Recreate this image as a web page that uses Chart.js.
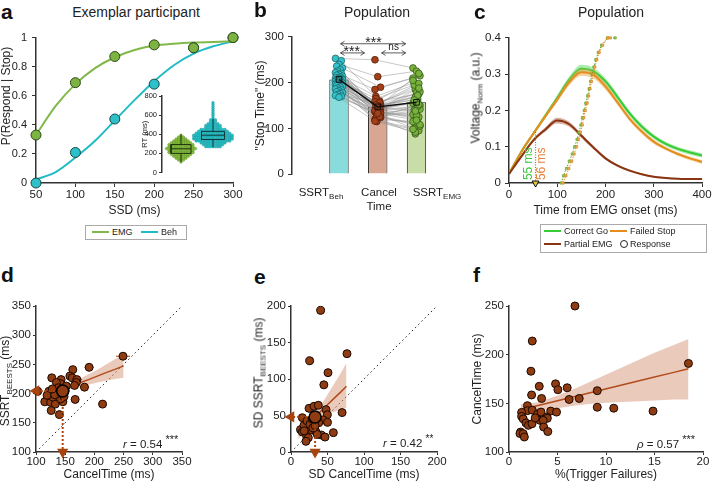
<!DOCTYPE html>
<html>
<head>
<meta charset="utf-8">
<title>Stop times</title>
<script src="https://cdn.jsdelivr.net/npm/chart.js@4.4.1/dist/chart.umd.min.js"></script>
<style>
  body { margin: 0; background: #fff; }
  #fig { position: relative; width: 715px; height: 482px; overflow: hidden;
         font-family: "Liberation Sans", Arial, sans-serif; color: #222; }
  #fig canvas { position: absolute; }
  .t { position: absolute; white-space: nowrap; line-height: 1; }
  .let { font-weight: bold; font-size: 21px; color: #111; }
  .ttl { font-size: 14px; }
  .ax { font-size: 12px; }
  .tk { font-size: 11.5px; }
  .sub { font-size: 8px; vertical-align: -3px; }
  .st { font-size: 11.5px; }
  .leg { position: absolute; border: 1px solid #aaa; background: #fff; }
  .ln { position: absolute; height: 2px; }
  .lt { position: absolute; font-size: 9px; line-height: 1; transform: translateY(-50%); }
</style>
</head>
<body>
<div id="fig"></div>
<script>
Chart.defaults.font.family = '"Liberation Sans", Arial, sans-serif';
Chart.defaults.font.size = 11.5;
Chart.defaults.color = '#222';
Chart.defaults.animation = false;
Chart.defaults.responsive = false;
Chart.defaults.events = [];
Chart.defaults.plugins.legend.display = false;
Chart.defaults.plugins.tooltip.enabled = false;

// ---------- panel a : exemplar participant
var ssd = [50, 100, 150, 200, 250, 300];
var pRespEmg = [0.33, 0.69, 0.87, 0.95, 0.93, 1.0];
var pRespBeh = [0.0, 0.21, 0.44, 0.68, 0.93, 1.0];
var fitSsd = [50, 75, 100, 125, 150, 175, 200, 225, 250, 275, 300];
var fitEmg = [0.33, 0.53, 0.68, 0.79, 0.865, 0.915, 0.945, 0.958, 0.966, 0.97, 0.975];
var fitBeh = [0.025, 0.075, 0.175, 0.29, 0.43, 0.57, 0.70, 0.81, 0.89, 0.94, 0.975];

// inset: RT swarm (half widths in px) and box stats [min, q1, median, q3, max]
var emgRt = [110, 130, 150, 170, 190, 210, 230, 250, 270, 290, 310, 330, 350, 370, 390];
var emgHalf = [1, 2, 4, 7, 10, 12, 13, 14, 13, 11, 9, 7, 5, 3, 1];
var behRt = [270, 290, 310, 330, 350, 370, 390, 410, 430, 450, 470, 490, 510, 530, 550,
             570, 590, 610, 630, 650, 670, 690, 710, 730];
var behHalf = [6, 10, 13, 16, 18, 20, 19, 17, 14, 11, 8, 6, 4, 3, 2, 0, 0, 0, 0, 0, 0, 0, 0, 0];
var emgBox = [110, 200, 248, 292, 400];
var behBox = [265, 345, 390, 430, 560];

// ---------- panel b : population stop times
var stopLabels = ['SSRT<span class="sub">Beh</span>', 'Cancel<br>Time', 'SSRT<span class="sub">EMG</span>'];
var stopMeans = [207, 147, 157];
var ssrtBeh = [253, 248, 240, 236, 232, 228, 225, 222, 220, 218, 216, 214, 212, 211, 210, 209, 208, 207,
               206, 205, 204, 203, 202, 201, 200, 199, 198, 197, 196, 195, 194, 193, 192, 190, 188, 186,
               184, 182, 180, 178, 176, 174, 172, 170, 168];
var cancelTime = [250, 160, 213, 145, 190, 138, 152, 185, 130, 148, 170, 125, 142, 155, 136, 150, 128, 165,
                  140, 147, 122, 158, 135, 143, 118, 153, 132, 146, 120, 156, 127, 141, 134, 149, 115, 139,
                  144, 131, 151, 124, 137, 129, 116, 126, 133];
var ssrtEmg = [232, 175, 225, 140, 215, 120, 190, 210, 95, 170, 200, 105, 160, 185, 130, 220, 110, 195,
               150, 165, 88, 205, 125, 178, 100, 180, 145, 168, 115, 198, 135, 158, 142, 172, 92, 155,
               188, 128, 162, 108, 148, 138, 98, 152, 118];

// ---------- panel c : EMG waveforms
var cTime = [0, 25, 50, 75, 100, 125, 150, 175, 200, 225, 250, 275, 300, 325, 350, 375, 400];
var goV   = [0.025, 0.085, 0.135, 0.185, 0.235, 0.285, 0.315, 0.308, 0.28, 0.237, 0.192, 0.156, 0.128, 0.108, 0.094, 0.084, 0.076];
var goSem = [0.003, 0.004, 0.005, 0.006, 0.007, 0.009, 0.011, 0.01, 0.009, 0.008, 0.007, 0.007, 0.006, 0.006, 0.006, 0.006, 0.006];
var failV = [0.025, 0.085, 0.135, 0.183, 0.23, 0.278, 0.305, 0.298, 0.266, 0.222, 0.177, 0.142, 0.114, 0.095, 0.08, 0.068, 0.058];
var failSem = [0.003, 0.004, 0.005, 0.006, 0.007, 0.009, 0.01, 0.01, 0.009, 0.008, 0.007, 0.006, 0.006, 0.005, 0.005, 0.005, 0.005];
var partV = [0.025, 0.072, 0.117, 0.147, 0.172, 0.162, 0.13, 0.098, 0.068, 0.048, 0.034, 0.024, 0.017, 0.014, 0.012, 0.011, 0.011];
var partSem = [0.003, 0.004, 0.005, 0.006, 0.008, 0.007, 0.006, 0.005, 0.004, 0.003, 0.003, 0.002, 0.002, 0.002, 0.002, 0.002, 0.002];
var respY = [0, 0.02, 0.04, 0.06, 0.08, 0.10, 0.12, 0.14, 0.16, 0.18, 0.20, 0.22, 0.24, 0.26, 0.28,
             0.30, 0.32, 0.34, 0.36, 0.38, 0.40, 0.40];
var respGoX = [108, 113, 119, 125, 131, 136, 141, 145, 149, 152, 156, 159, 163, 166, 169, 172, 176, 180, 185, 192, 204, 220];
var respFailX = [112, 118, 124, 130, 135, 140, 144, 148, 152, 155, 158, 162, 165, 168, 171, 175, 178, 182, 187, 194, 205, 210];
var onsetMs = [55, 56];

// ---------- panel d
var dCancel = [249, 191, 163, 127, 143, 142, 135, 158, 162, 170, 169, 166, 152, 183, 131, 122, 103, 167, 214,
               115, 125, 133, 146, 142, 126, 140, 129, 119, 136, 145, 138, 148, 132, 128, 150];
var dSsrt = [264, 245, 241, 227, 224, 217, 219, 230, 227, 224, 219, 214, 213, 211, 206, 204, 204, 190, 182,
             186, 185, 182, 186, 191, 171, 164, 194, 197, 200, 201, 210, 195, 198, 208, 205];
var dErr = [12, 8, 5, 4, 4, 4, 4, 5, 4, 9, 4, 4, 4, 8, 4, 4, 8, 7, 4,
            5, 4, 4, 4, 4, 4, 4, 4, 4, 4, 4, 4, 4, 4, 4, 4];
var dMean = [145.7, 204.5];
var dFitX = [112, 130, 145, 160, 175, 190, 205, 220, 235, 250];
var dFitY = [194, 201, 207, 212.5, 218.5, 224, 230, 236, 241.5, 247.5];
var dFitHi = [203, 206, 210, 217, 225, 233, 241, 250, 259, 268];
var dFitLo = [186, 196, 203, 208, 212, 215, 219, 222, 225, 227];

// ---------- panel e
var eCancelSd = [40.6, 76.7, 25.6, 50.7, 45, 70, 48, 49.8, 24.7, 31.5, 37.4, 15.5, 44, 50, 58, 41.5, 34,
                 27, 20, 13, 15.5, 17.8, 22, 26, 30, 21.5, 23.7, 20.5, 36, 46.6, 38, 33, 29, 18];
var eSsrtSd = [194, 134.7, 125, 108.7, 92, 54, 58, 51, 59.8, 62.6, 64, 47, 44, 40.6, 26.5, 23.3, 28,
               30.6, 32.4, 30.6, 27.4, 36.5, 42.5, 38, 33, 21.5, 19.6, 14.6, 24, 20.5, 40, 36, 45, 29];
var eMean = [33, 48];
var eFitX = [10, 20, 28, 36, 44, 52, 60, 68, 76];
var eFitY = [26, 35.7, 43.5, 51.2, 59, 66.7, 74.5, 82, 90];
var eFitHi = [36, 41, 47, 57, 69, 82, 95, 108, 122];
var eFitLo = [17, 30, 39, 46, 50, 53, 55, 58, 61];

// ---------- panel f
var fTrig = [6.8, 2.4, 2.26, 3.12, 2.33, 4.8, 5.04, 6.0, 6.2, 7.24, 3.36, 9.1, 9.1, 10.8, 14.85, 18.5,
             1.9, 1.9, 2.4, 2.95, 3.3, 4.3, 4.9, 3.9, 3.95, 3.2, 3.53, 3.57, 4.0, 1.3, 1.3, 1.47, 1.75,
             2.0, 2.37, 1.2, 1.13, 1.47, 1.58, 2.7];
var fCancel = [250, 214, 183, 167.5, 158.6, 170, 164, 166, 154, 155, 155, 163, 146, 145, 142, 191,
               147.6, 142.5, 143, 139, 141, 142, 141, 136, 134.6, 132.5, 132.5, 125.7, 121, 140.7, 136.6,
               134, 129.8, 127.4, 129, 120.5, 119, 118.8, 115.4, 135];
var fFitX = [1.2, 3, 5, 7, 9, 11, 13, 15, 17, 18.5];
var fFitY = [143.4, 147.8, 152.6, 157.5, 162.4, 167.2, 172.1, 177, 181.8, 185.6];
var fFitHi = [149, 151, 158, 166, 175, 184, 193, 202, 210, 216];
var fFitLo = [138, 142, 145, 148, 150, 151, 152, 153, 154, 154];

// ---------- helpers
var fig = document.getElementById('fig');
var AX = '#333';
var BROWN = '#8f3c12';
var BAND = 'rgba(214,150,120,0.5)';

function pts(xs, ys) {
  return xs.map(function (x, i) { return {x: x, y: ys[i]}; });
}

function place(L, T, R, B, yW, xH) {
  var pad = {left: 2, top: 10, right: 16, bottom: 2};
  var c = document.createElement('canvas');
  c.width = (R - L) + yW + pad.left + pad.right;
  c.height = (B - T) + xH + pad.top + pad.bottom;
  c.style.left = (L - yW - pad.left) + 'px';
  c.style.top = (T - pad.top) + 'px';
  fig.appendChild(c);
  return {canvas: c, pad: pad, yW: yW, xH: xH};
}

function axis(min, max, step, size, vertical, title, o) {
  o = o || {};
  var s = {
    type: 'linear', min: min, max: max,
    ticks: {stepSize: step, color: '#222', padding: o.tpad != null ? o.tpad : (vertical ? 4 : 1),
            font: {size: o.font || 11.5}, maxRotation: 0, autoSkip: false,
            callback: function (v) { return String(Math.round(v * 1000) / 1000); }},
    grid: {drawOnChartArea: false, drawTicks: true, tickLength: o.tick || 4, color: AX},
    border: {color: AX, width: 1.5},
    afterFit: vertical ? function (sc) { sc.width = size; } : function (sc) { sc.height = size; }
  };
  if (title) s.title = {display: true, text: title, color: '#222', font: {size: o.tfont || 12},
                        padding: o.titlePad || {top: 2, bottom: 2}};
  return s;
}

function label(html, x, y, cls, tf, css) {
  var d = document.createElement('div');
  d.className = 't ' + (cls || '');
  d.innerHTML = html;
  d.style.left = x + 'px';
  d.style.top = y + 'px';
  d.style.transform = tf || 'translate(-50%,-50%)';
  if (css) d.style.cssText += css;
  fig.appendChild(d);
}
var ROT = 'translate(-50%,-50%) rotate(-90deg)';

function band(xs, hi, lo, ord) {
  return [
    {type: 'line', data: pts(xs, hi), fill: '+1', backgroundColor: BAND, borderWidth: 0,
     pointRadius: 0, order: ord},
    {type: 'line', data: pts(xs, lo), fill: false, borderWidth: 0, pointRadius: 0, order: ord}
  ];
}

function errBars(xs, ys, errs) {
  var out = [];
  xs.forEach(function (x, i) {
    out.push({x: x - errs[i], y: ys[i]}, {x: x + errs[i], y: ys[i]}, {x: x, y: null});
  });
  return out;
}

function meanArrows(mean, xmin, ymin) {
  return [
    {type: 'line', data: [{x: mean[0], y: mean[1]}, {x: xmin, y: mean[1]}], borderColor: '#a8440f',
     borderWidth: 2, borderDash: [2, 2], pointRadius: [0, 4.5], pointStyle: 'triangle', rotation: -90,
     pointBackgroundColor: '#a8440f', pointBorderColor: '#a8440f', clip: false, order: 2},
    {type: 'line', data: [{x: mean[0], y: mean[1]}, {x: mean[0], y: ymin}], borderColor: '#a8440f',
     borderWidth: 2, borderDash: [2, 2], pointRadius: [0, 4.5], pointStyle: 'triangle', rotation: 180,
     pointBackgroundColor: '#a8440f', pointBorderColor: '#a8440f', clip: false, order: 2}
  ];
}

function layout(p) { return {padding: p.pad}; }

// ---------- panel a chart
var pa = place(36, 36, 233, 183, 36, 37);
new Chart(pa.canvas, {
  type: 'scatter',
  data: {datasets: [
    {data: pts(ssd, pRespEmg), backgroundColor: '#7cb342', borderColor: '#2f4a16', borderWidth: 1,
     pointRadius: 5, clip: false, order: 1},
    {data: pts(ssd, pRespBeh), backgroundColor: '#2ec0c9', borderColor: '#17494c', borderWidth: 1,
     pointRadius: 5, clip: false, order: 2},
    {type: 'line', data: pts(fitSsd, fitEmg), borderColor: '#80b84a', borderWidth: 2, pointRadius: 0,
     cubicInterpolationMode: 'monotone', order: 3},
    {type: 'line', data: pts(fitSsd, fitBeh), borderColor: '#22bac4', borderWidth: 2, pointRadius: 0,
     cubicInterpolationMode: 'monotone', order: 4}
  ]},
  options: {
    layout: layout(pa),
    scales: {
      x: axis(50, 300, 50, pa.xH, false, 'SSD (ms)'),
      y: axis(0, 1, 0.2, pa.yW, true, null, {tpad: 5, font: 11})
    }
  }
});

// inset
function swarm(center, levels, half) {
  var out = [];
  levels.forEach(function (rt, i) {
    var n = Math.round(half[i] / 2.4);
    for (var k = -n; k <= n; k++) out.push({x: center + k * 2.4, y: rt});
  });
  return out;
}
function boxLines(center, w, b) {
  return [
    {x: center - w, y: b[1]}, {x: center + w, y: b[1]}, {x: center + w, y: b[3]}, {x: center - w, y: b[3]},
    {x: center - w, y: b[1]}, {x: null, y: null},
    {x: center - w, y: b[2]}, {x: center + w, y: b[2]}, {x: null, y: null},
    {x: center, y: b[0]}, {x: center, y: b[1]}, {x: null, y: null},
    {x: center, y: b[3]}, {x: center, y: b[4]}
  ];
}
var pin = place(162, 96, 235, 177, 22, 0);
new Chart(pin.canvas, {
  type: 'scatter',
  data: {datasets: [
    {type: 'line', data: boxLines(19, 10, emgBox), borderColor: '#1f3312', borderWidth: 1, pointRadius: 0,
     spanGaps: false, order: 1},
    {type: 'line', data: boxLines(51, 11.5, behBox), borderColor: '#0f3b3e', borderWidth: 1, pointRadius: 0,
     spanGaps: false, order: 1},
    {data: swarm(19, emgRt, emgHalf), backgroundColor: '#8dc63f', borderColor: '#5b8c22', borderWidth: 0.5,
     pointRadius: 1.3, order: 2},
    {data: swarm(51, behRt, behHalf), backgroundColor: '#2ac6ce', borderColor: '#16959b', borderWidth: 0.5,
     pointRadius: 1.3, order: 2}
  ]},
  options: {
    layout: layout(pin),
    scales: {
      x: {type: 'linear', min: 0, max: 73, display: false},
      y: axis(0, 800, 200, pin.yW, true, 'RT (ms)', {font: 7.5, tfont: 7.5, tick: 3, tpad: 2,
              titlePad: {top: 0, bottom: 1}})
    }
  }
});

// ---------- panel b chart
var pb = place(292, 36, 460, 183, 42, 0);
function jit(i) { return ((i * 5) % 7 - 3) * 0.03; }
var bSets = [
  {type: 'bar', data: pts([0, 1, 2], stopMeans), backgroundColor: ['#88dcdc', '#d8a691', '#c9dda9'],
   borderColor: '#1a1a1a', borderWidth: 1, barPercentage: 0.5, categoryPercentage: 1, order: 100},
  {type: 'line', data: pts([0, 1, 2], stopMeans), borderColor: '#111', borderWidth: 1.5, pointRadius: 4,
   pointStyle: 'rect', pointBackgroundColor: 'rgba(0,0,0,0)', pointBorderColor: '#111',
   pointBorderWidth: 1, order: 1},
  {type: 'scatter', data: ssrtBeh.map(function (v, i) { return {x: jit(i), y: v}; }),
   backgroundColor: '#33c1c9', borderColor: '#1b5a5e', borderWidth: 0.7, pointRadius: 3.4, order: 10},
  {type: 'scatter', data: cancelTime.map(function (v, i) { return {x: 1 + jit(i) * 0.8, y: v}; }),
   backgroundColor: '#a3401a', borderColor: '#4a1a08', borderWidth: 0.7, pointRadius: 3.4, order: 10},
  {type: 'scatter', data: ssrtEmg.map(function (v, i) { return {x: 2 + jit(i), y: v}; }),
   backgroundColor: '#77b23d', borderColor: '#2f4d14', borderWidth: 0.7, pointRadius: 3.4, order: 10}
];
ssrtBeh.forEach(function (v, i) {
  bSets.push({type: 'line', data: [{x: jit(i), y: v}, {x: 1 + jit(i) * 0.8, y: cancelTime[i]},
              {x: 2 + jit(i), y: ssrtEmg[i]}], borderColor: 'rgba(150,150,150,0.75)', borderWidth: 0.7,
              pointRadius: 0, order: 50});
});
var sigBars = [
  {from: 0.04, to: 1.72, y: 285, text: '***', tx: 0.89},
  {from: 0.04, to: 0.66, y: 265, text: '***', tx: 0.33},
  {from: 1.1, to: 1.72, y: 265, text: 'ns', tx: 1.41}
];
new Chart(pb.canvas, {
  type: 'bar',
  data: {datasets: bSets},
  options: {
    layout: layout(pb),
    scales: {
      x: {type: 'linear', min: -0.49, max: 2.4, display: false},
      y: axis(0, 300, 100, pb.yW, true, '"Stop Time" (ms)', {tpad: 4, titlePad: {top: 3, bottom: 0}})
    }
  },
  plugins: [{
    id: 'sig',
    afterDatasetsDraw: function (chart) {
      var c = chart.ctx, x = chart.scales.x, y = chart.scales.y;
      c.save();
      c.strokeStyle = '#333'; c.fillStyle = '#222'; c.lineWidth = 0.8;
      sigBars.forEach(function (s) {
        var x0 = x.getPixelForValue(s.from), x1 = x.getPixelForValue(s.to), py = y.getPixelForValue(s.y);
        c.beginPath();
        c.moveTo(x0, py); c.lineTo(x1, py);
        c.moveTo(x0 + 4, py - 2.5); c.lineTo(x0, py); c.lineTo(x0 + 4, py + 2.5);
        c.moveTo(x1 - 4, py - 2.5); c.lineTo(x1, py); c.lineTo(x1 - 4, py + 2.5);
        c.stroke();
        c.textAlign = 'center'; c.textBaseline = 'alphabetic';
        if (s.text === 'ns') {
          c.font = '10px "Liberation Sans", Arial';
          c.fillText(s.text, x.getPixelForValue(s.tx), py - 3);
        } else {
          c.font = '14px "Liberation Sans", Arial';
          c.fillText(s.text, x.getPixelForValue(s.tx), py + 3.5);
        }
      });
      c.restore();
    }
  }]
});

// ---------- panel c chart
var pc = place(509, 37, 702, 183, 39, 37);
var cSets = [
  {type: 'scatter', data: [{x: onsetMs[0], y: 0}], pointStyle: 'triangle', rotation: 180, pointRadius: 4,
   backgroundColor: '#e2c63a', borderColor: '#111', borderWidth: 1, clip: false, order: 0},
  {type: 'line', data: pts(respFailX, respY), borderColor: '#e8921e', borderWidth: 1, borderDash: [1.5, 1.5],
   pointRadius: 1.6, pointStyle: 'rect', pointBackgroundColor: '#f0b060', pointBorderColor: '#d07f10',
   pointBorderWidth: 0.6, clip: false, order: 1},
  {type: 'line', data: pts(respGoX, respY), borderColor: '#5aa020', borderWidth: 1, borderDash: [1.5, 1.5],
   pointRadius: 1.6, pointStyle: 'rect', pointBackgroundColor: '#9ad060', pointBorderColor: '#5a9a20',
   pointBorderWidth: 0.6, clip: false, order: 1},
  {type: 'line', data: [{x: onsetMs[0], y: 0}, {x: onsetMs[0], y: 0.145}], borderColor: '#7a8a10',
   borderWidth: 1.2, borderDash: [1, 1.5], pointRadius: 0, order: 1}
];
function curve(vals, sem, color, fillCol, ord) {
  cSets.push({type: 'line', data: pts(cTime, vals.map(function (v, i) { return v + sem[i]; })), fill: '+1',
              backgroundColor: fillCol, borderWidth: 0, pointRadius: 0, cubicInterpolationMode: 'monotone',
              order: ord + 1});
  cSets.push({type: 'line', data: pts(cTime, vals.map(function (v, i) { return v - sem[i]; })), fill: false,
              borderWidth: 0, pointRadius: 0, cubicInterpolationMode: 'monotone', order: ord + 1});
  cSets.push({type: 'line', data: pts(cTime, vals), borderColor: color, borderWidth: 2, pointRadius: 0,
              cubicInterpolationMode: 'monotone', order: ord});
}
curve(partV, partSem, '#8a3412', 'rgba(170,80,45,0.45)', 3);
curve(failV, failSem, '#e38e1f', 'rgba(240,165,70,0.5)', 5);
curve(goV, goSem, '#37cc37', 'rgba(90,215,90,0.5)', 7);
new Chart(pc.canvas, {
  type: 'scatter',
  data: {datasets: cSets},
  options: {
    layout: layout(pc),
    scales: {
      x: axis(0, 400, 100, pc.xH, false, 'Time from EMG onset (ms)'),
      y: axis(0, 0.4, 0.1, pc.yW, true, null, {tpad: 4})
    }
  },
  plugins: [{
    id: 'onset',
    afterDatasetsDraw: function (chart) {
      var c = chart.ctx, x = chart.scales.x, y = chart.scales.y;
      c.save();
      c.font = '12px "Liberation Sans", Arial';
      c.textBaseline = 'middle'; c.textAlign = 'left';
      [[onsetMs[0] - 14, '#3cc83c', onsetMs[0] + ' ms'], [onsetMs[1] + 12, '#e8823a', onsetMs[1] + ' ms']]
        .forEach(function (t) {
          c.save();
          c.translate(x.getPixelForValue(t[0]), y.getPixelForValue(0.008));
          c.rotate(-Math.PI / 2);
          c.fillStyle = t[1];
          c.fillText(t[2], 0, 0);
          c.restore();
        });
      c.restore();
    }
  }]
});

// ---------- panels d, e, f
function scatterPanel(p, xs, ys, fit, mean, err, sc) {
  var sets = [];
  if (mean) {
    sets.push({data: [{x: mean[0], y: mean[1]}], backgroundColor: BROWN, borderColor: '#000', borderWidth: 1.5,
               pointRadius: 6, clip: false, order: 0});
    sets = sets.concat(meanArrows(mean, sc.x[0], sc.y[0]));
  }
  sets.push({data: pts(xs, ys), backgroundColor: BROWN, borderColor: '#1a0800', borderWidth: 1,
             pointRadius: 4, clip: false, order: 3});
  if (err) sets.push({type: 'line', data: errBars(xs, ys, err), borderColor: '#a8440f', borderWidth: 1,
                      pointRadius: 0, spanGaps: false, order: 4});
  sets.push({type: 'line', data: pts(fit[0], fit[1]), borderColor: '#b24c1c', borderWidth: 1.5, pointRadius: 0,
             order: 5});
  sets = sets.concat(band(fit[0], fit[2], fit[3], 6));
  if (sc.identity) sets.push({type: 'line', data: [{x: sc.x[0], y: sc.y[0]}, {x: sc.x[1], y: sc.y[1]}],
                              borderColor: '#222', borderWidth: 1, borderDash: [1.5, 3], pointRadius: 0, order: 7});
  new Chart(p.canvas, {
    type: 'scatter',
    data: {datasets: sets},
    options: {
      layout: layout(p),
      scales: {
        x: axis(sc.x[0], sc.x[1], sc.x[2], p.xH, false, sc.xt, {tick: 3, tpad: 0}),
        y: axis(sc.y[0], sc.y[1], sc.y[2], p.yW, true, sc.yt || null, {tick: 3, tpad: 2,
                titlePad: {top: 0, bottom: 0}})
      }
    }
  });
}

var pd = place(36, 306, 182, 452, 36, 32);
scatterPanel(pd, dCancel, dSsrt, [dFitX, dFitY, dFitHi, dFitLo], dMean, dErr,
  {x: [100, 350, 50], y: [100, 350, 50], xt: 'CancelTime (ms)', identity: true});
var pe = place(291, 306, 437, 452, 40, 32);
scatterPanel(pe, eCancelSd, eSsrtSd, [eFitX, eFitY, eFitHi, eFitLo], eMean, null,
  {x: [0, 200, 50], y: [0, 200, 50], xt: 'SD CancelTime (ms)', identity: true});
var pf = place(509, 306, 703, 452, 39, 32);
scatterPanel(pf, fTrig, fCancel, [fFitX, fFitY, fFitHi, fFitLo], null, null,
  {x: [0, 20, 5], y: [100, 250, 50], xt: '%(Trigger Failures)', yt: 'CancelTime (ms)'});

// ---------- text: letters, titles, ticks, axis titles, stats
label('a', 1, 1, 'let', 'none');
label('b', 254, -1, 'let', 'none');
label('c', 474, 1, 'let', 'none');
label('d', 1, 264, 'let', 'none');
label('e', 254, 266, 'let', 'none');
label('f', 473, 264, 'let', 'none');
label('Exemplar participant', 136, 12, 'ttl');
label('Population', 377, 12, 'ttl');
label('Population', 611, 12, 'ttl');

label(stopLabels[0], 321, 194, 'tk');
label(stopLabels[1], 379, 200, 'tk', 'translate(-50%,-50%)', 'text-align:center;line-height:1.2;');
label(stopLabels[2], 437, 194, 'tk');

label('P(Respond | Stop)', 6, 96, 'ax', ROT);
label('Voltage<span class="sub">Norm</span> (a.u.)', 477, 98, 'ax', ROT);
label('SSRT<span class="sub">BEESTS</span> (ms)', 5.5, 381, 'ax', ROT);
label('SD SSRT<span class="sub">BEESTS</span> (ms)', 260, 373, 'ax', ROT);

label('<i>r</i> = 0.54 <sup style="font-size:11px">***</sup>', 123, 442, 'st', 'translate(0,-50%)');
label('<i>r</i> = 0.42 <sup style="font-size:10px">**</sup>', 383, 442, 'st', 'translate(0,-50%)');
label('<i>&rho;</i> = 0.57 <sup style="font-size:11px">***</sup>', 637, 442, 'st', 'translate(0,-50%)');

// ---------- legends
function legendBox(x, y, w, h) {
  var d = document.createElement('div');
  d.className = 'leg';
  d.style.left = x + 'px'; d.style.top = y + 'px';
  d.style.width = w + 'px'; d.style.height = h + 'px';
  fig.appendChild(d);
}
function legendItem(x, y, color, text, marker) {
  var m = document.createElement('div');
  if (marker === 'circle') {
    m.style.cssText = 'position:absolute;width:6px;height:6px;border:1px solid #222;border-radius:50%;' +
                      'left:' + (x - 4) + 'px;top:' + (y - 4) + 'px;';
  } else {
    m.className = 'ln';
    m.style.cssText += 'left:' + x + 'px;top:' + (y - 1) + 'px;width:17px;background:' + color + ';';
  }
  fig.appendChild(m);
  var t = document.createElement('div');
  t.className = 'lt';
  t.textContent = text;
  t.style.left = (x + (marker === 'circle' ? 6 : 20)) + 'px';
  t.style.top = y + 'px';
  fig.appendChild(t);
}
legendBox(85, 225, 100, 13);
legendItem(92, 231.5, '#80b84a', 'EMG');
legendItem(141, 231.5, '#22bac4', 'Beh');
legendBox(540, 224, 165, 27);
legendItem(544, 231, '#37cc37', 'Correct Go');
legendItem(610, 231, '#e38e1f', 'Failed Stop');
legendItem(544, 244, '#8a3412', 'Partial EMG');
legendItem(624, 244, null, 'Response', 'circle');
</script>
</body>
</html>
